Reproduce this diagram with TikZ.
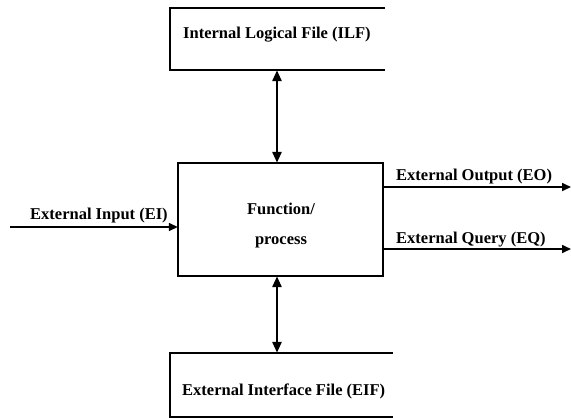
\documentclass[tikz,border=0pt]{standalone}
\usepackage{fontspec}
\setmainfont{Liberation Serif}
\usetikzlibrary{arrows.meta,calc}
\begin{document}
\begin{tikzpicture}[x=1pt,y=-1pt,
  lbl/.style={font=\fontsize{16.5}{20}\selectfont\bfseries, inner sep=0pt, anchor=base west},
  boxline/.style={line width=1.8pt},
  varrow/.style={line width=2.6pt, {Triangle[length=11pt,width=9pt]}-{Triangle[length=11pt,width=9pt]}},
  harrow/.style={line width=1.6pt, -{Triangle[length=9pt,width=8pt]}},
  spacer/.style={draw=none, inner sep=0pt}]
\useasboundingbox (0,0) rectangle (571,418);
% boxes (invisible nodes, sides drawn explicitly)
\node[spacer, minimum width=215pt, minimum height=62pt] (ilf) at (277.5,39) {};
\node[spacer, minimum width=205pt, minimum height=113pt] (func) at (280.5,219.5) {};
\node[spacer, minimum width=223pt, minimum height=64pt] (eif) at (281.5,385) {};
\draw[boxline] (ilf.north east) -- (ilf.north west) -- (ilf.south west) -- (ilf.south east);
\draw[boxline] (func.north west) rectangle (func.south east);
\draw[boxline] (eif.north east) -- (eif.north west) -- (eif.south west) -- (eif.south east);
% texts
\node[lbl] (ilft) at (183,38) {Internal Logical File (ILF)};
\node[lbl, anchor=base, align=center, font=\fontsize{16.5}{30}\selectfont\bfseries] (funct) at (281,244) {Function/\\process};
\node[lbl] (eift) at (182,395) {External Interface File (EIF)};
% vertical arrows
\coordinate (vx) at (277,0);
\draw[varrow] (ilf.south -| vx) -- (func.north -| vx);
\draw[varrow] (func.south -| vx) -- (eif.north -| vx);
% input
\coordinate (ein) at (10,227);
\draw[harrow] (ein) -- (ein -| func.west);
\node[lbl] (eilbl) at (30,219) {External Input (EI)};
% outputs
\coordinate (eoend) at (571,187);
\coordinate (eqend) at (571,249);
\draw[harrow] (func.east |- eoend) -- (eoend);
\draw[harrow] (func.east |- eqend) -- (eqend);
\node[lbl] (eolbl) at (396,180) {External Output (EO)};
\node[lbl] (eqlbl) at (396,243) {External Query (EQ)};
\end{tikzpicture}
\end{document}
